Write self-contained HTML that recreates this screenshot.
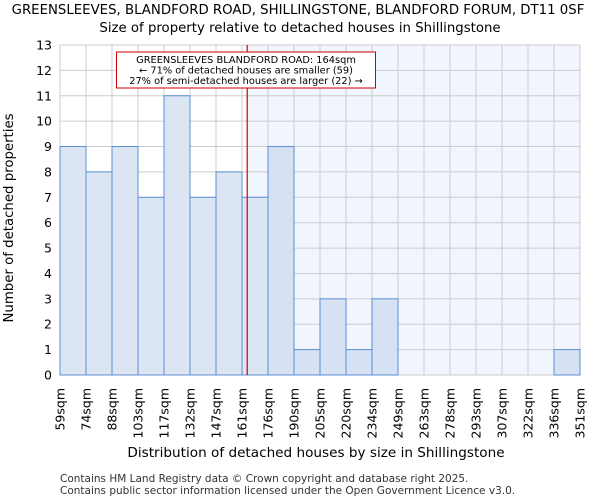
<!DOCTYPE html>
<html><head><meta charset="utf-8"><style>
body{margin:0;background:#fff}
svg{display:block;font-family:"DejaVu Sans","Liberation Sans",sans-serif}
</style></head><body>
<svg id="chart" width="600" height="500">
<text x="298" y="14" text-anchor="middle" font-size="13.3">GREENSLEEVES, BLANDFORD ROAD, SHILLINGSTONE, BLANDFORD FORUM, DT11 0SF</text>
<text x="300" y="32" text-anchor="middle" font-size="13.3">Size of property relative to detached houses in Shillingstone</text>
<text x="316" y="457" text-anchor="middle" font-size="13.6">Distribution of detached houses by size in Shillingstone</text>
<text transform="translate(13,218) rotate(-90)" text-anchor="middle" font-size="13.3">Number of detached properties</text>
<text x="60" y="482" font-size="10.5" fill="#333">Contains HM Land Registry data © Crown copyright and database right 2025.</text>
<text x="60" y="494" font-size="10.5" fill="#333">Contains public sector information licensed under the Open Government Licence v3.0.</text>
<g id="plot"></g>
</svg>
<script>
const binLabels=["59sqm","74sqm","88sqm","103sqm","117sqm","132sqm","147sqm","161sqm","176sqm","190sqm","205sqm","220sqm","234sqm","249sqm","263sqm","278sqm","293sqm","307sqm","322sqm","336sqm","351sqm"];
const binEdges=[59,74,88,103,117,132,147,161,176,190,205,220,234,249,263,278,293,307,322,336,351];
const counts=[9,8,9,7,11,7,8,7,9,1,3,1,3,0,0,0,0,0,0,1];
const yTicks=[0,1,2,3,4,5,6,7,8,9,10,11,12,13];
const marker=164;
const NS="http://www.w3.org/2000/svg";
const g=document.getElementById('plot');
const X0=60,X1=580,Y0=375,Y1=45,YMAX=13;
const bw=(X1-X0)/counts.length;
const xi=i=>X0+i*bw;
const y=v=>Y0-(v/YMAX)*(Y0-Y1);
function xv(v){for(let i=0;i<binEdges.length-1;i++){if(v<=binEdges[i+1])return xi(i)+(v-binEdges[i])/(binEdges[i+1]-binEdges[i])*bw;}return X1;}
function el(t,a){const e=document.createElementNS(NS,t);for(const k in a)e.setAttribute(k,a[k]);g.appendChild(e);return e;}
const mx=xv(marker);
let r=el('rect',{x:mx,y:Y1,width:X1-mx,height:Y0-Y1,fill:'#f1f5fd'});


yTicks.forEach(t=>{
 let l=el('line',{x1:X0,x2:X1,y1:y(t),y2:y(t),stroke:'#cccccc'});
 
 
 let tx=el('text',{x:X0-8,y:y(t)+4.5,'text-anchor':'end','font-size':'12.5'});
 tx.textContent=t;
 
 
});
binLabels.forEach((s,i)=>{
 let l=el('line',{x1:xi(i),x2:xi(i),y1:Y1,y2:Y0,stroke:'#cccccc'});
 
 
 let tx=el('text',{transform:`translate(${xi(i)+4.5},388) rotate(-90)`,'text-anchor':'end','font-size':'12.5'});
 tx.textContent=s;
 
 
});
counts.forEach((c,i)=>{
 if(c<=0)return;
 let b=el('rect',{x:xi(i),y:y(c),width:bw,height:Y0-y(c),fill:xi(i)>=mx-5?'#d6e1f3':'#dce6f3',stroke:'#5b8fd6','stroke-width':1});
 
 
});
let ml=el('line',{x1:mx,x2:mx,y1:Y1,y2:Y0,stroke:'#cc0000','stroke-width':1.2});


let bx=el('rect',{x:116.5,y:52,width:259,height:36,fill:'#fff',stroke:'#cc0000','stroke-width':1});


["GREENSLEEVES BLANDFORD ROAD: 164sqm","← 71% of detached houses are smaller (59)","27% of semi-detached houses are larger (22) →"].forEach((s,k)=>{
 let t=el('text',{x:246,y:63+k*10.5,'text-anchor':'middle','font-size':'9.8'});
 t.textContent=s;
 
 
});
</script>
</body></html>
